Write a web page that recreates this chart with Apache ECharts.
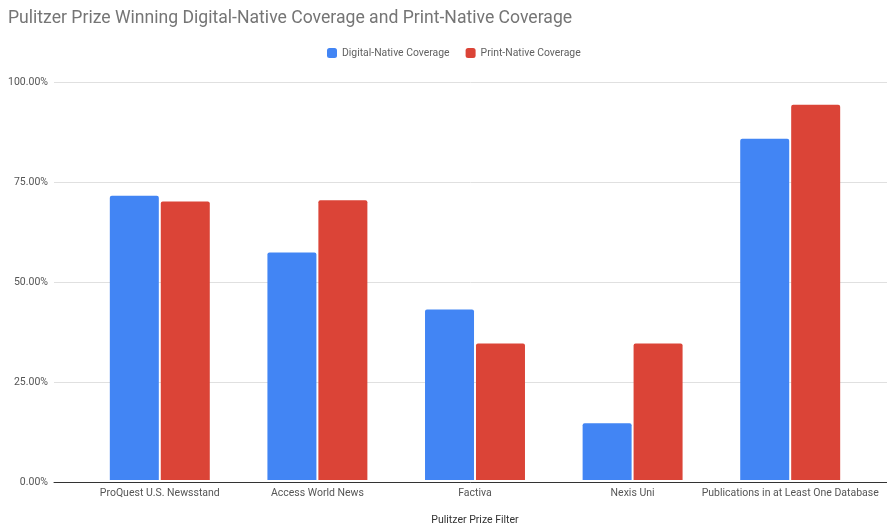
<!DOCTYPE html>
<html><head><meta charset="utf-8">
<script src="https://cdn.jsdelivr.net/npm/echarts@6/dist/echarts.min.js"></script>
<style>html,body{margin:0;padding:0;background:#fff}#c{width:887px;height:531px}</style>
</head><body><div id="c"></div>
<script>
const categories = ["ProQuest U.S. Newsstand", "Access World News", "Factiva", "Nexis Uni", "Publications in at Least One Database"];
const digitalNative = [71.43, 57.14, 42.86, 14.29, 85.71];
const printNative = [70.0, 70.27, 34.29, 34.29, 94.29];
const seriesNames = ["Digital-Native Coverage", "Print-Native Coverage"];
const yTicks = [0, 25, 50, 75, 100];

const chart = echarts.init(document.getElementById('c'));
const font = 'Roboto, Arial, sans-serif';
chart.setOption({
  animation: false,
  title: { text: "Pulitzer Prize Winning Digital-Native Coverage and Print-Native Coverage", left: 3, top: 5,
    textStyle: { fontFamily: font, fontSize: 17.6, fontWeight: 'normal', color: '#757575' } },
  legend: { left: 322, top: 43, itemWidth: 10, itemHeight: 10, itemGap: 16, icon: 'roundRect',
    textStyle: { fontFamily: font, fontSize: 10.4, color: '#616161' }, data: seriesNames },
  grid: [
    { left: 54, right: 0, top: 82, bottom: 49 },
    { left: 81, right: 18, top: 82, bottom: 49 }
  ],
  xAxis: [
    { type: 'category', gridIndex: 0, data: categories, axisLabel: { show: false }, axisTick: { show: false },
      axisLine: { lineStyle: { color: '#333', width: 1 } } },
    { type: 'category', gridIndex: 1, data: categories, axisTick: { show: false }, axisLine: { show: false },
      axisLabel: { interval: 0, fontFamily: font, fontSize: 10.5, color: '#555', margin: 8 },
      name: 'Pulitzer Prize Filter', nameLocation: 'middle', nameGap: 35,
      nameTextStyle: { fontFamily: font, fontSize: 10.5, color: '#333' } }
  ],
  yAxis: [
    { type: 'value', gridIndex: 0, min: yTicks[0], max: yTicks[yTicks.length - 1], interval: 25,
      axisLine: { show: false }, axisTick: { show: false },
      axisLabel: { fontFamily: font, fontSize: 10.5, color: '#555', margin: 6, formatter: v => v.toFixed(2) + '%' },
      splitLine: { lineStyle: { color: '#e0e0e0' } } },
    { type: 'value', gridIndex: 1, min: 0, max: 100, interval: 25, show: false, splitLine: { show: false } }
  ],
  series: [
    { name: seriesNames[0], type: 'bar', xAxisIndex: 1, yAxisIndex: 1, data: digitalNative, barWidth: 49, barGap: '4%',
      itemStyle: { color: '#4285f4', borderRadius: [2, 2, 0, 0] } },
    { name: seriesNames[1], type: 'bar', xAxisIndex: 1, yAxisIndex: 1, data: printNative, barWidth: 49, barGap: '4%',
      itemStyle: { color: '#db4437', borderRadius: [2, 2, 0, 0] } }
  ]
});
</script></body></html>
